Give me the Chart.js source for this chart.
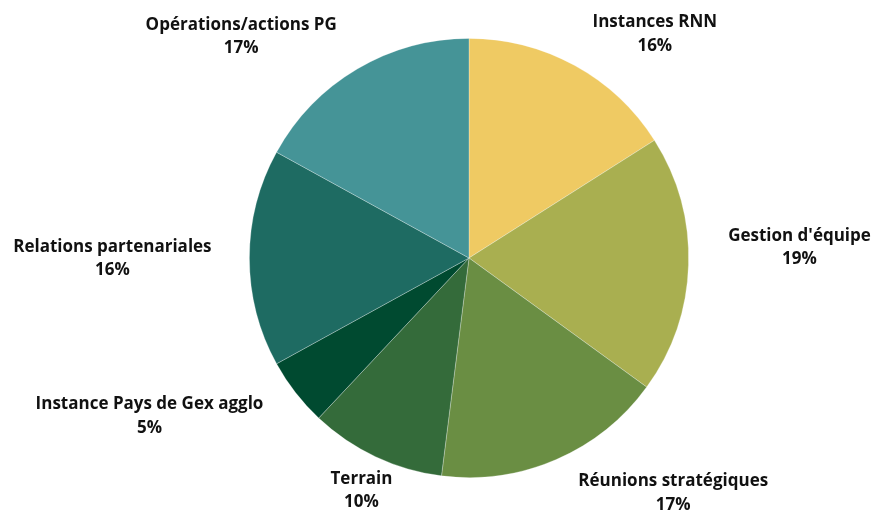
<!DOCTYPE html>
<html>
<head>
<meta charset="utf-8">
<script src="https://cdn.jsdelivr.net/npm/chart.js@4.4.1/dist/chart.umd.min.js"></script>
<style>
  html, body { margin: 0; padding: 0; background: #fff; }
  #wrap { width: 874px; height: 512px; }
</style>
</head>
<body>
<div id="wrap"><canvas id="pieChart" width="874" height="512"></canvas></div>
<script>
// data
const categories = ['Instances RNN', "Gestion d'équipe", 'Réunions stratégiques', 'Terrain',
  'Instance Pays de Gex agglo', 'Relations partenariales', 'Opérations/actions PG'];
const shares = [16, 19, 17, 10, 5, 16, 17];
const sliceColors = ['#EFCA63', '#A9AF50', '#6A8E43', '#346B3A', '#004A30', '#1E6B62', '#459497'];

// label shift from the outer edge of each slice, in px
const labelNudge = [[80, -32], [111, -18], [117, 33], [-14, 33], [-146, 23], [-137, 0], [-116, -33]];

const outsideLabels = {
  id: 'outsideLabels',
  afterDatasetsDraw(chart) {
    const ctx = chart.ctx;
    const meta = chart.getDatasetMeta(0);
    ctx.save();
    ctx.fillStyle = '#111';
    ctx.font = 'bold 17px "Open Sans"';
    ctx.textAlign = 'center';
    ctx.textBaseline = 'middle';
    meta.data.forEach((arc, i) => {
      const p = arc.getProps(['x', 'y', 'startAngle', 'endAngle', 'outerRadius'], true);
      const mid = (p.startAngle + p.endAngle) / 2;
      const x = p.x + Math.cos(mid) * p.outerRadius + labelNudge[i][0];
      const y = p.y + Math.sin(mid) * p.outerRadius + labelNudge[i][1];
      ctx.fillText(categories[i], x, y - 11);
      ctx.fillText(shares[i] + '%', x, y + 12.5);
    });
    ctx.restore();
  }
};

const ctx = document.getElementById('pieChart').getContext('2d');
new Chart(ctx, {
  type: 'pie',
  data: {
    labels: categories,
    datasets: [{
      data: shares,
      backgroundColor: sliceColors,
      borderColor: 'rgba(255,255,255,0.35)',
      borderWidth: 0.8
    }]
  },
  options: {
    responsive: false,
    animation: false,
    layout: { padding: { top: 38, bottom: 34, left: 249, right: 185 } },
    plugins: {
      legend: { display: false },
      tooltip: { enabled: false }
    }
  },
  plugins: [outsideLabels]
});
</script>
</body>
</html>
